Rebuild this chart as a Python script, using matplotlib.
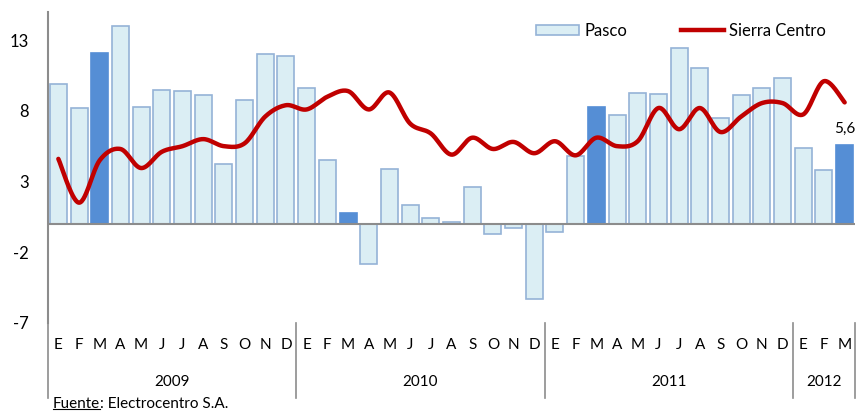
import numpy as np
import matplotlib.pyplot as plt
from matplotlib.patches import Patch
from matplotlib.lines import Line2D

plt.rcParams['font.family'] = ['Lato', 'DejaVu Sans']
plt.rcParams['axes.unicode_minus'] = False

months = ['E', 'F', 'M', 'A', 'M', 'J', 'J', 'A', 'S', 'O', 'N', 'D'] * 3 + ['E', 'F', 'M']
years = ['2009', '2010', '2011', '2012']
year_len = [12, 12, 12, 3]

pasco = [9.9, 8.2, 12.1, 14.0, 8.25, 9.45, 9.4, 9.15, 4.25, 8.8, 12.0, 11.9,
         9.65, 4.5, 0.8, -2.85, 3.9, 1.3, 0.4, 0.15, 2.6, -0.7, -0.3, -5.35,
         -0.55, 4.8, 8.3, 7.7, 9.25, 9.2, 12.45, 11.0, 7.5, 9.15, 9.65, 10.3,
         5.35, 3.8, 5.6]
sierra = [4.6, 1.5, 4.5, 5.3, 3.95, 5.1, 5.5, 6.0, 5.5, 5.7, 7.6, 8.4,
          8.1, 9.0, 9.4, 8.1, 9.3, 7.1, 6.4, 4.9, 6.1, 5.3, 5.8, 5.0,
          5.85, 4.85, 6.1, 5.5, 5.85, 8.2, 6.7, 8.2, 6.5, 7.6, 8.55, 8.55,
          7.75, 10.1, 8.6]
highlight = [2, 14, 26, 38]  # marzo de cada año

light = '#DBEEF4'
edge = '#95B3D7'
dark = '#558ED5'
red = '#C00000'
grey = '#8C8C8C'

fig = plt.figure(figsize=(8.64, 4.11), dpi=100)
W, H = 864, 411
ax_left, ax_right, ax_top, ax_bot = 48, 855, 12, 322.7
ax = fig.add_axes([ax_left / W, 1 - ax_bot / H, (ax_right - ax_left) / W, (ax_bot - ax_top) / H])

x = np.arange(len(pasco))
colors = [dark if i in highlight else light for i in x]
edges = [dark if i in highlight else edge for i in x]
ax.bar(x, pasco, width=0.82, color=colors, edgecolor=edges, linewidth=1.2, zorder=2)

# curva suavizada tipo Excel (Bezier con puntos de control 1/6)
pts = np.column_stack([x, sierra]).astype(float)
ext = np.vstack([pts[0], pts, pts[-1]])
curve = []
t = np.linspace(0, 1, 30)[:, None]
for i in range(len(pts) - 1):
    p0, p1, p2, p3 = ext[i], ext[i + 1], ext[i + 2], ext[i + 3]
    c1 = p1 + (p2 - p0) / 6
    c2 = p2 - (p3 - p1) / 6
    seg = (1 - t) ** 3 * p1 + 3 * (1 - t) ** 2 * t * c1 + 3 * (1 - t) * t ** 2 * c2 + t ** 3 * p2
    curve.append(seg)
curve = np.vstack(curve)
ax.plot(curve[:, 0], curve[:, 1], color=red, linewidth=3.2, solid_capstyle='round', zorder=3)

ax.text(x[-1], pasco[-1] + 0.6, '5,6', ha='center', va='bottom', fontsize=11)

ax.set_xlim(-0.5, len(x) - 0.5)
ax.set_ylim(-7, 15)
ax.set_yticks([-7, -2, 3, 8, 13])
ax.tick_params(axis='y', length=0, labelsize=12, pad=14)
ax.set_xticks([])
for s in ['top', 'right', 'bottom']:
    ax.spines[s].set_visible(False)
ax.spines['left'].set_color(grey)
ax.spines['left'].set_linewidth(1.5)
ax.axhline(0, color=grey, linewidth=1.5, zorder=4)

# eje de categorías en dos niveles
tr = ax.get_xaxis_transform()
line_bot = (ax_bot - 398) / (ax_bot - ax_top)
ax.plot([-0.5, -0.5], [0, line_bot], color=grey, lw=1.2, transform=tr, clip_on=False)
for i, m in enumerate(months):
    ax.text(i, -0.072, m, ha='center', va='center', fontsize=11, transform=tr)
start = 0
for yr, n in zip(years, year_len):
    end = start + n
    ax.plot([end - 0.5, end - 0.5], [0, line_bot], color=grey, lw=1.2, transform=tr, clip_on=False)
    ax.text((start + end - 1) / 2, -0.19, yr, ha='center', va='center', fontsize=11, transform=tr)
    start = end

handles = [Patch(facecolor=light, edgecolor=edge, linewidth=1.2),
           Line2D([0], [0], color=red, linewidth=3.2)]
fig.legend(handles, ['Pasco', 'Sierra Centro'], ncol=2, frameon=False, fontsize=12,
           loc='upper left', bbox_to_anchor=(521 / W, 1 - 8 / H),
           handlelength=2.6, handleheight=0.6, handletextpad=0.3, columnspacing=3.2)

# fuente con "Fuente" subrayado
fy = 1 - 404 / H
t1 = fig.text(53 / W, fy, 'Fuente', fontsize=11, va='center')
fig.canvas.draw()
bb = t1.get_window_extent().transformed(fig.transFigure.inverted())
fig.add_artist(Line2D([bb.x0, bb.x1], [bb.y0 + 0.004, bb.y0 + 0.004], color='black', lw=0.8,
                      transform=fig.transFigure))
fig.text(bb.x1, fy, ': Electrocentro S.A.', fontsize=11, va='center')

fig.savefig('out.png', dpi=100)
